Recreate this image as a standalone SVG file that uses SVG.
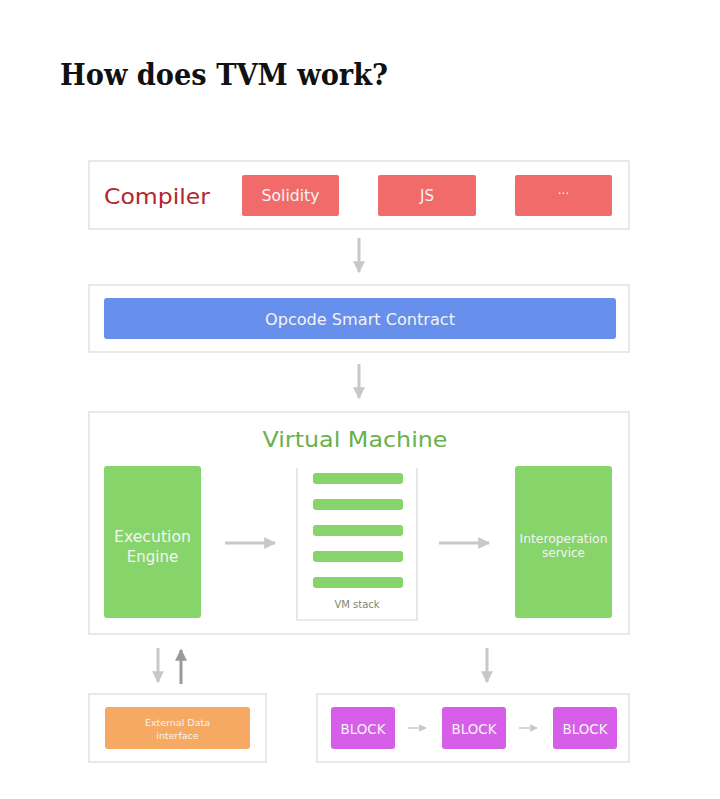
<svg xmlns="http://www.w3.org/2000/svg" width="720" height="799" viewBox="0 0 720 799">
<defs>
<marker id="ah" viewBox="0 0 10 10" refX="9" refY="5" markerWidth="4" markerHeight="4" orient="auto-start-reverse" markerUnits="strokeWidth">
<path d="M0,0 L10,5 L0,10 z" fill="#c8c8c8"/>
</marker>
<marker id="ahd" viewBox="0 0 10 10" refX="9" refY="5" markerWidth="4" markerHeight="4" orient="auto-start-reverse" markerUnits="strokeWidth">
<path d="M0,0 L10,5 L0,10 z" fill="#9a9a9a"/>
</marker>
<marker id="ahs" viewBox="0 0 10 10" refX="9" refY="5" markerWidth="5" markerHeight="5" orient="auto" markerUnits="strokeWidth">
<path d="M0,0 L10,5 L0,10 z" fill="#c8c8c8"/>
</marker>
</defs>
<style>
.frame{fill:#ffffff;stroke:#e2e2e2;stroke-width:1.5}
.red{fill:#f26b6b}
.green{fill:#86d46a}
.mag{fill:#d75ee9}
.lbl{font-family:"DejaVu Sans",sans-serif;fill:#f4f4f4;text-anchor:middle}
.arr{stroke:#c8c8c8;stroke-width:3;fill:none;marker-end:url(#ah)}
.arrs{stroke:#c8c8c8;stroke-width:1.5;fill:none;marker-end:url(#ahs)}
</style>
<rect width="720" height="799" fill="#ffffff"/>
<text x="60" y="85" font-family="'DejaVu Serif','Liberation Serif',serif" font-weight="bold" font-size="30" fill="#111111" textLength="328" lengthAdjust="spacingAndGlyphs">How does TVM work?</text>

<g id="compiler">
<rect class="frame" x="89" y="161" width="540" height="68"/>
<text x="104" y="204" font-family="'DejaVu Sans',sans-serif" font-size="22" fill="#b3262d" textLength="106" lengthAdjust="spacingAndGlyphs">Compiler</text>
</g>
<g id="solidity"><rect class="red" x="242" y="175" width="97" height="41" rx="2"/><text class="lbl" x="290.5" y="201" font-size="15" textLength="58" lengthAdjust="spacingAndGlyphs">Solidity</text></g>
<g id="js"><rect class="red" x="378" y="175" width="98" height="41" rx="2"/><text class="lbl" x="427" y="201" font-size="15">JS</text></g>
<g id="more"><rect class="red" x="515" y="175" width="97" height="41" rx="2"/><text class="lbl" x="563.5" y="198" font-size="12">···</text></g>

<g id="opcode">
<rect class="frame" x="89" y="285" width="540" height="67"/>
<rect x="104" y="298" width="512" height="41" rx="3" fill="#6690eb"/>
<text class="lbl" x="360" y="325" font-size="16" textLength="190" lengthAdjust="spacingAndGlyphs">Opcode Smart Contract</text>
</g>

<g id="vm">
<rect class="frame" x="89" y="412" width="540" height="222"/>
<text x="355" y="447" font-family="'DejaVu Sans',sans-serif" font-size="22" fill="#6ab04c" text-anchor="middle" textLength="185" lengthAdjust="spacingAndGlyphs">Virtual Machine</text>
</g>
<g id="execution"><rect class="green" x="104" y="466" width="97" height="152" rx="3"/><text class="lbl" x="152.5" y="542" font-size="15" textLength="77" lengthAdjust="spacingAndGlyphs">Execution</text><text class="lbl" x="152.5" y="562" font-size="15">Engine</text></g>
<g id="vmstack">
<path d="M297,468 V620 H417 V468" fill="none" stroke="#d8d8d8" stroke-width="1.2"/>
<rect class="green" x="313" y="473" width="90" height="11" rx="3"/>
<rect class="green" x="313" y="499" width="90" height="11" rx="3"/>
<rect class="green" x="313" y="525" width="90" height="11" rx="3"/>
<rect class="green" x="313" y="551" width="90" height="11" rx="3"/>
<rect class="green" x="313" y="577" width="90" height="11" rx="3"/>
<text x="357" y="608" font-family="'DejaVu Sans',sans-serif" font-size="10" fill="#7a8a72" text-anchor="middle">VM stack</text>
</g>
<g id="interop"><rect class="green" x="515" y="466" width="97" height="152" rx="3"/><text class="lbl" x="563.5" y="543" font-size="12" textLength="88" lengthAdjust="spacingAndGlyphs">Interoperation</text><text class="lbl" x="563.5" y="557" font-size="12">service</text></g>

<g id="external">
<rect class="frame" x="89" y="694" width="177" height="68"/>
<rect x="105" y="707" width="145" height="42" rx="3" fill="#f5a962"/>
<text class="lbl" x="177.5" y="726" font-size="9.5">External Data</text>
<text class="lbl" x="177.5" y="739" font-size="9.5">interface</text>
</g>
<g id="blocks">
<rect class="frame" x="317" y="694" width="312" height="68"/>
</g>
<g id="block1"><rect class="mag" x="331" y="707" width="64" height="42" rx="3"/><text class="lbl" x="363" y="734" font-size="14" textLength="45" lengthAdjust="spacingAndGlyphs">BLOCK</text></g>
<g id="block2"><rect class="mag" x="442" y="707" width="64" height="42" rx="3"/><text class="lbl" x="474" y="734" font-size="14" textLength="45" lengthAdjust="spacingAndGlyphs">BLOCK</text></g>
<g id="block3"><rect class="mag" x="553" y="707" width="64" height="42" rx="3"/><text class="lbl" x="585" y="734" font-size="14" textLength="45" lengthAdjust="spacingAndGlyphs">BLOCK</text></g>

<g id="connectors">
<line class="arr" x1="359" y1="238" x2="359" y2="272"/>
<line class="arr" x1="359" y1="364" x2="359" y2="398"/>
<line class="arr" x1="225" y1="543" x2="275" y2="543"/>
<line class="arr" x1="439" y1="543" x2="489" y2="543"/>
<line class="arr" x1="158" y1="648" x2="158" y2="682"/>
<line x1="181" y1="684" x2="181" y2="650" stroke="#9a9a9a" stroke-width="3" marker-end="url(#ahd)"/>
<line class="arr" x1="487" y1="648" x2="487" y2="682"/>
<line class="arrs" x1="408" y1="728" x2="426" y2="728"/>
<line class="arrs" x1="519" y1="728" x2="537" y2="728"/>
</g>
</svg>
